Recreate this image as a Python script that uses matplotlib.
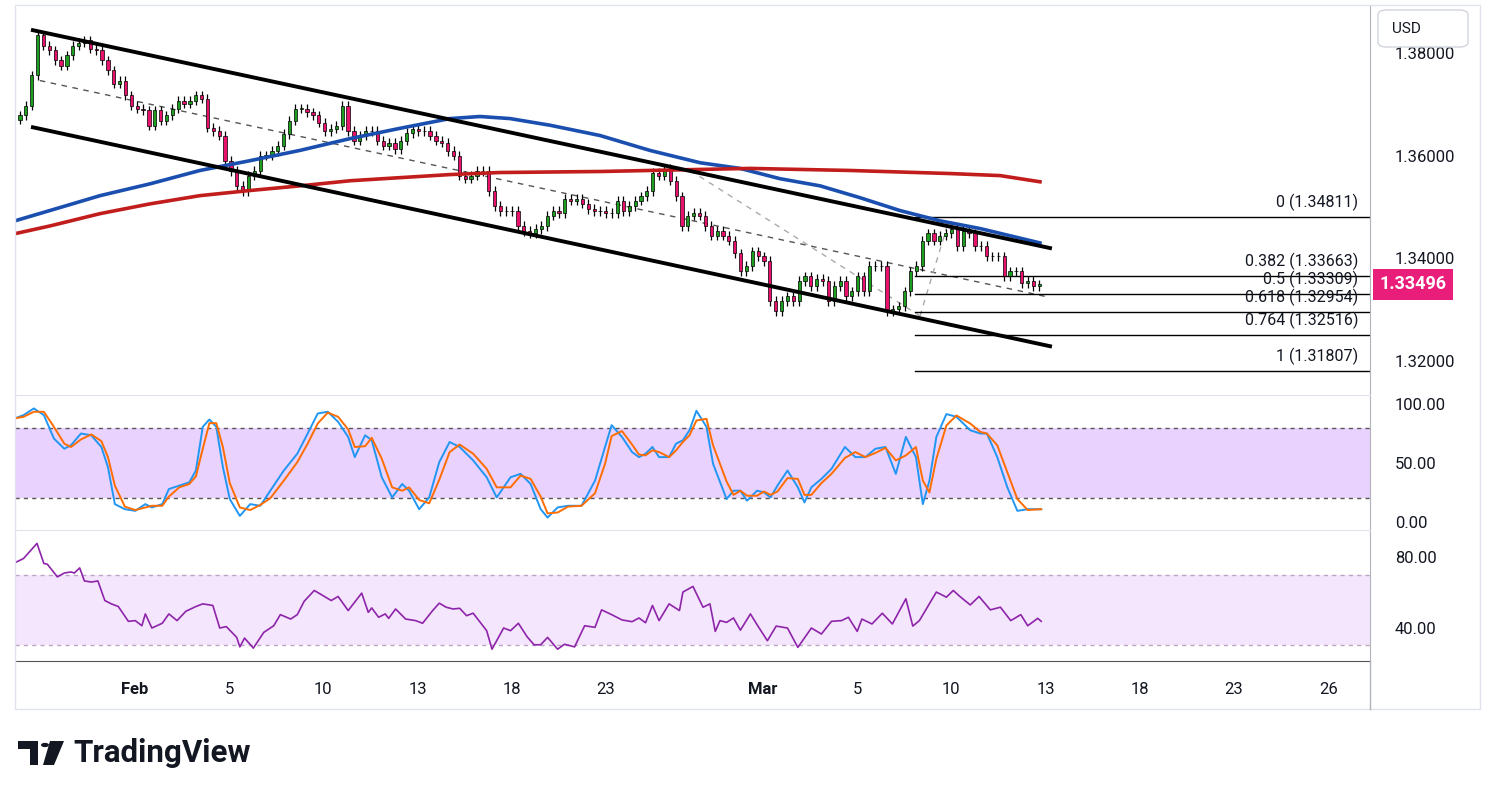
import matplotlib

matplotlib.use("Agg")
import matplotlib.pyplot as plt
import numpy as np
from matplotlib.patches import FancyBboxPatch, Rectangle, Circle, Polygon

plt.rcParams["font.family"] = ["Roboto", "DejaVu Sans"]

# ---- data (GBP/USD 4h, x in trading days from Feb 2) ----
closes = [
    1.3678, 1.3697, 1.3756, 1.3834, 1.3814, 1.3805, 1.3785, 1.3775, 1.3795, 1.3814,
    1.3820, 1.3824, 1.3808, 1.3805, 1.3785, 1.3766, 1.3740, 1.3746, 1.3717, 1.3697,
    1.3691, 1.3688, 1.3658, 1.3688, 1.3668, 1.3678, 1.3691, 1.3707, 1.3701, 1.3707,
    1.3717, 1.3711, 1.3654, 1.3648, 1.3639, 1.3590, 1.3570, 1.3541, 1.3531, 1.3561,
    1.3570, 1.3600, 1.3600, 1.3609, 1.3619, 1.3642, 1.3668, 1.3691, 1.3691, 1.3684,
    1.3678, 1.3664, 1.3648, 1.3652, 1.3658, 1.3697, 1.3648, 1.3629, 1.3639, 1.3648,
    1.3648, 1.3629, 1.3619, 1.3625, 1.3613, 1.3629, 1.3644, 1.3652, 1.3648, 1.3648,
    1.3639, 1.3629, 1.3625, 1.3609, 1.3600, 1.3561, 1.3555, 1.3561, 1.3570, 1.3570,
    1.3531, 1.3502, 1.3492, 1.3492, 1.3492, 1.3463, 1.3453, 1.3449, 1.3457, 1.3463,
    1.3483, 1.3492, 1.3488, 1.3516, 1.3512, 1.3516, 1.3506, 1.3496, 1.3492, 1.3492,
    1.3488, 1.3488, 1.3512, 1.3492, 1.3502, 1.3512, 1.3521, 1.3531, 1.3566, 1.3561,
    1.3574, 1.3551, 1.3521, 1.3463, 1.3483, 1.3488, 1.3483, 1.3463, 1.3444, 1.3453,
    1.3444, 1.3434, 1.3410, 1.3375, 1.3385, 1.3414, 1.3404, 1.3395, 1.3317, 1.3297,
    1.3317, 1.3326, 1.3317, 1.3356, 1.3365, 1.3346, 1.3360, 1.3356, 1.3317, 1.3346,
    1.3356, 1.3326, 1.3336, 1.3365, 1.3336, 1.3385, 1.3385, 1.3385, 1.3297, 1.3301,
    1.3307, 1.3336, 1.3375, 1.3385, 1.3434, 1.3449, 1.3434, 1.3444, 1.3449, 1.3457,
    1.3424, 1.3453, 1.3449, 1.3424, 1.3424, 1.3404, 1.3404, 1.3404, 1.3365, 1.3375,
    1.3375, 1.3352, 1.3356, 1.3346, 1.33496,
]
first_open = 1.3670
t_first, t_last = -3.66, 28.8

ma_blue = [(-3.82, 1.3473), (-2.71, 1.3493), (-1.11, 1.3522), (0.48, 1.3545), (2.07, 1.3571),
           (3.66, 1.3590), (5.25, 1.3610), (6.85, 1.3633), (8.44, 1.3653), (10.03, 1.3672),
           (10.99, 1.3676), (11.94, 1.3672), (13.22, 1.3659), (14.81, 1.3639), (16.40, 1.3610),
           (18.00, 1.3586), (19.27, 1.3575), (20.54, 1.3555), (21.82, 1.3541), (23.09, 1.3518),
           (24.36, 1.3493), (25.64, 1.3473), (26.91, 1.3458), (28.82, 1.3430)]
ma_red = [(-3.82, 1.3448), (-2.71, 1.3463), (-1.11, 1.3487), (0.48, 1.3506), (2.07, 1.3522),
          (3.66, 1.3532), (5.25, 1.3541), (6.85, 1.3551), (8.44, 1.3557), (10.03, 1.3563),
          (11.62, 1.3567), (14.81, 1.3569), (18.0, 1.3573), (19.59, 1.3575), (22.77, 1.3571),
          (25.96, 1.3565), (27.55, 1.3561), (28.82, 1.3549)]

stoch_t = [-3.83, -3.55, -3.22, -2.90, -2.58, -2.25, -2.04, -1.72, -1.39, -1.07, -0.86, -0.64,
           -0.32, 0.01, 0.33, 0.54, 0.87, 1.08, 1.41, 1.73, 1.94, 2.16, 2.37, 2.59, 2.80, 3.02,
           3.34, 3.67, 3.99, 4.31, 4.74, 5.17, 5.50, 5.82, 6.14, 6.47, 6.79, 7.00, 7.33, 7.54,
           7.86, 8.19, 8.51, 8.73, 9.05, 9.37, 9.69, 10.02, 10.34, 10.77, 11.20, 11.52, 11.96,
           12.28, 12.60, 12.92, 13.14, 13.46, 13.79, 14.22, 14.65, 14.97, 15.18, 15.51, 15.83,
           16.05, 16.26, 16.48, 16.69, 17.01, 17.23, 17.45, 17.66, 17.88, 18.20, 18.41, 18.84,
           19.06, 19.28, 19.49, 19.81, 20.03, 20.24, 20.46, 20.78, 21.11, 21.32, 21.54, 21.86,
           22.18, 22.61, 22.94, 23.26, 23.58, 23.90, 24.23, 24.55, 24.87, 25.09, 25.30, 25.52,
           25.84, 26.16, 26.60, 26.92, 27.13, 27.46, 27.78, 28.10, 28.43, 28.86]
stoch_k = [87.8, 90.6, 96.3, 90.6, 70.7, 62.1, 65.0, 75.0, 73.5, 63.6, 46.5, 15.1, 10.8, 9.4,
           15.1, 12.3, 15.1, 27.9, 30.8, 33.6, 43.6, 80.7, 86.9, 80.7, 46.5, 19.4, 5.1, 15.1,
           13.7, 26.5, 43.6, 57.9, 75.0, 92.0, 93.5, 84.9, 72.1, 55.0, 73.5, 69.3, 37.9, 20.8,
           32.2, 26.5, 10.8, 20.8, 50.7, 67.8, 63.6, 52.2, 37.9, 20.8, 37.9, 40.8, 32.2, 10.8,
           3.7, 12.3, 13.7, 13.7, 35.0, 63.6, 82.1, 72.1, 59.3, 55.0, 57.9, 63.6, 55.0, 55.0,
           66.4, 69.3, 77.8, 94.3, 80.7, 49.3, 19.4, 26.5, 26.5, 18.0, 26.5, 25.1, 20.8, 30.8,
           43.6, 29.4, 16.5, 29.4, 36.5, 45.0, 63.6, 55.0, 55.0, 62.1, 63.6, 40.8, 72.1, 55.0,
           15.1, 35.0, 72.1, 91.5, 89.2, 77.8, 75.0, 75.0, 55.0, 29.4, 9.4, 10.8, 10.8]
# %D = 2-sample average of %K (orange trails the blue line closely)
stoch_d = np.convolve(np.r_[[stoch_k[0]], stoch_k], np.ones(2) / 2, mode="valid")

rsi_t = [-3.83, -3.55, -3.12, -2.90, -2.79, -2.47, -2.25, -2.04, -1.93, -1.76, -1.61, -1.39,
         -1.18, -0.96, -0.75, -0.53, -0.21, 0.01, 0.22, 0.33, 0.54, 0.87, 1.08, 1.34, 1.62,
         1.94, 2.16, 2.48, 2.70, 2.91, 3.24, 3.34, 3.49, 3.77, 4.10, 4.42, 4.63, 4.96, 5.17,
         5.39, 5.71, 5.93, 6.25, 6.47, 6.79, 7.22, 7.43, 7.54, 7.76, 7.97, 8.08, 8.30, 8.62,
         8.94, 9.16, 9.48, 9.69, 9.91, 10.13, 10.34, 10.56, 10.77, 11.20, 11.37, 11.74, 11.96,
         12.21, 12.49, 12.71, 12.92, 13.14, 13.46, 13.68, 14.00, 14.32, 14.65, 14.86, 15.18,
         15.51, 15.83, 16.05, 16.26, 16.48, 16.69, 17.01, 17.34, 17.45, 17.77, 18.09, 18.31,
         18.48, 18.63, 18.84, 19.06, 19.28, 19.60, 19.81, 20.14, 20.42, 20.78, 21.11, 21.54,
         21.86, 22.18, 22.50, 22.72, 23.00, 23.15, 23.47, 23.80, 24.12, 24.55, 24.77, 24.98,
         25.52, 25.84, 26.06, 26.27, 26.60, 26.88, 27.24, 27.56, 27.89, 28.21, 28.43, 28.75, 28.86]
rsi = [76.8, 79.2, 87.8, 76.4, 76.0, 68.8, 71.0, 71.6, 71.0, 73.9, 66.5, 65.9, 66.5, 55.4,
       53.5, 52.0, 43.6, 44.0, 41.1, 47.8, 39.8, 42.5, 47.8, 44.0, 49.3, 52.0, 53.5, 52.6,
       39.8, 40.6, 34.5, 29.1, 34.1, 28.4, 37.3, 41.1, 47.4, 44.9, 47.4, 55.0, 61.1, 58.8,
       55.4, 57.7, 49.7, 59.6, 48.7, 51.2, 45.9, 47.8, 45.3, 50.6, 44.9, 44.0, 42.5, 49.7,
       53.9, 51.6, 50.6, 51.0, 46.8, 48.2, 38.3, 27.8, 39.8, 38.3, 42.5, 34.8, 30.3, 30.3,
       34.5, 27.8, 30.6, 29.1, 41.1, 40.2, 50.1, 47.4, 44.4, 43.4, 45.5, 42.8, 52.6, 44.0,
       53.5, 49.7, 60.2, 63.4, 51.6, 53.5, 37.9, 44.0, 43.0, 45.5, 38.6, 47.8, 41.7, 32.6,
       40.9, 39.8, 28.8, 39.8, 36.4, 43.6, 44.0, 45.9, 37.9, 44.9, 42.1, 48.2, 42.1, 56.4,
       40.9, 44.0, 60.2, 57.3, 61.1, 57.7, 52.9, 57.7, 50.1, 51.6, 44.0, 47.4, 41.1, 45.3, 43.6]

fib = [("0", 1.34811), ("0.382", 1.33663), ("0.5", 1.33309), ("0.618", 1.32954),
       ("0.764", 1.32516), ("1", 1.31807)]

UP, DOWN = "#1e9e1e", "#e8126c"
X0, X1 = -3.82, 39.33

fig = plt.figure(figsize=(14.91, 7.99), dpi=100)
fig.patch.set_facecolor("white")
W, H = 1491, 799


def axes_px(x0, y0, x1, y1):
    return fig.add_axes([x0 / W, 1 - y1 / H, (x1 - x0) / W, (y1 - y0) / H])


ax = axes_px(15, 5, 1370, 394)
ax_st = axes_px(15, 395, 1370, 529)
ax_rsi = axes_px(15, 530, 1370, 661)

# ---- main panel ----
n = len(closes)
tx = np.linspace(t_first, t_last, n)
opens = [first_open] + closes[:-1]
bw = (t_last - t_first) / (n - 1) * 0.55
for t, o, c in zip(tx, opens, closes):
    col = UP if c >= o else DOWN
    lo, hi = min(o, c), max(o, c)
    ax.vlines(t, lo - 0.0009, hi + 0.0009, color="black", lw=0.9, zorder=3)
    ax.add_patch(Rectangle((t - bw / 2, lo), bw, max(hi - lo, 0.00006),
                           facecolor=col, edgecolor="black", lw=0.5, zorder=4))

bt, bv = zip(*ma_blue)
ax.plot(bt, bv, color="#1a4fb0", lw=2.6, zorder=5)
rt, rv = zip(*ma_red)
ax.plot(rt, rv, color="#c21d1d", lw=2.6, zorder=5)

ax.plot([-3.25, 29.14], [1.3844, 1.3420], color="black", lw=2.8, zorder=6)
ax.plot([-3.25, 29.14], [1.3655, 1.3229], color="black", lw=2.8, zorder=6)
ax.plot([-3.03, 28.98], [1.3746, 1.3326], color="#555555", lw=1, ls=(0, (4, 4)), zorder=2)
ax.plot([17.68, 25.0], [1.3571, 1.3288], color="#aaaaaa", lw=1, ls=(0, (4, 4)), zorder=2)
ax.plot([25.0, 25.9], [1.3288, 1.3470], color="#aaaaaa", lw=1, ls=(0, (4, 4)), zorder=2)

for lab, p in fib:
    ax.plot([24.84, X1], [p, p], color="black", lw=1, zorder=2)
    ax.text(38.95, p + 0.0011, f"{lab} ({p:.5f})", ha="right", va="bottom",
            fontsize=11.5, color="#131722")

ax.set_xlim(X0, X1)
ax.set_ylim(1.3136, 1.3893)

# ---- stochastic ----
ax_st.axhspan(20, 80, color="#e9d2fd", lw=0)
for lv in (20, 80):
    ax_st.axhline(lv, color="#555555", lw=1, ls=(0, (3, 3)))
ax_st.plot(stoch_t, stoch_k, color="#2196f3", lw=1.4)
ax_st.plot(stoch_t, stoch_d, color="#ff6d00", lw=1.4)
ax_st.set_xlim(X0, X1)
ax_st.set_ylim(-6, 107.7)

# ---- RSI ----
ax_rsi.axhspan(30, 70, color="#f4e6fd", lw=0)
for lv in (30, 70):
    ax_rsi.axhline(lv, color="#b9a6c4", lw=1, ls=(0, (3, 3)))
ax_rsi.plot(rsi_t, rsi, color="#8e24aa", lw=1.2)
ax_rsi.set_xlim(X0, X1)
ax_rsi.set_ylim(21.1, 95.4)

for a in (ax, ax_st, ax_rsi):
    for s in a.spines.values():
        s.set_visible(False)
    a.spines["right"].set_visible(True)
    a.spines["right"].set_color("#b0b3bb")
    a.yaxis.tick_right()
    a.tick_params(axis="y", length=0, pad=18, labelsize=12, labelcolor="#131722")
    a.set_xticks([])
for a in (ax_st, ax_rsi):
    a.spines["top"].set_visible(True)
    a.spines["top"].set_color("#e0e3eb")
ax_rsi.spines["bottom"].set_visible(True)
ax_rsi.spines["bottom"].set_color("#555555")

ax.set_yticks([1.32, 1.34, 1.36, 1.38])
ax.set_yticklabels(["1.32000", "1.34000", "1.36000", "1.38000"])
ax_st.set_yticks([0, 50, 100])
ax_st.set_yticklabels(["0.00", "50.00", "100.00"])
ax_rsi.set_yticks([40, 80])
ax_rsi.set_yticklabels(["40.00", "80.00"])

ticks = [0, 3, 6, 9, 12, 15, 20, 23, 26, 29, 32, 35, 38]
labels = ["Feb", "5", "10", "13", "18", "23", "Mar", "5", "10", "13", "18", "23", "26"]
ax_rsi.set_xticks(ticks)
ax_rsi.set_xticklabels(labels)
ax_rsi.tick_params(axis="x", length=0, pad=15, labelsize=12, labelcolor="#131722")
for lab in ax_rsi.get_xticklabels():
    if lab.get_text() in ("Feb", "Mar"):
        lab.set_fontweight("bold")

# last price tag
last = closes[-1]
ax.annotate(f"{last:.5f}", xy=(1.0, last), xycoords=("axes fraction", "data"),
            xytext=(7, 0), textcoords="offset points", ha="left", va="center",
            fontsize=13, fontweight="bold", color="white",
            bbox=dict(boxstyle="square,pad=0.35", fc="#e91e7a", ec="none"))

# outer frame + right axis strip
fig.add_artist(Rectangle((15 / W, 1 - 709 / H), 1465 / W, 704 / H, transform=fig.transFigure,
                         fill=False, ec="#e0e3eb", lw=1))
fig.add_artist(plt.Line2D([1370 / W, 1370 / W], [1 - 709 / H, 1 - 661 / H],
                          transform=fig.transFigure, color="#b0b3bb", lw=1))
fig.add_artist(FancyBboxPatch((1378 / W, 1 - 47 / H), 90 / W, 37 / H, transform=fig.transFigure,
                              boxstyle="round,pad=0,rounding_size=0.006", fc="white", ec="#d1d4dc", lw=1))
fig.text(1392 / W, 1 - 29 / H, "USD", fontsize=11, va="center", ha="left", color="#131722")

# TradingView logo
fig.add_artist(Polygon([[18 / W, 1 - 741 / H], [38 / W, 1 - 741 / H], [38 / W, 1 - 765 / H],
                        [30 / W, 1 - 765 / H], [30 / W, 1 - 749 / H], [18 / W, 1 - 749 / H]],
                       closed=True, transform=fig.transFigure, fc="#131722", ec="none"))
fig.add_artist(Circle((45 / W, 1 - 745 / H), 4 / W, transform=fig.transFigure, fc="#131722", ec="none"))
fig.add_artist(Polygon([[50 / W, 1 - 741 / H], [64 / W, 1 - 741 / H], [54 / W, 1 - 765 / H],
                        [43 / W, 1 - 765 / H]], closed=True, transform=fig.transFigure,
                       fc="#131722", ec="none"))
fig.text(73 / W, 1 - 753 / H, "TradingView", fontsize=22.5, fontweight="bold", va="center",
         ha="left", color="#131722")

fig.savefig("out.png", dpi=100, facecolor="white")
